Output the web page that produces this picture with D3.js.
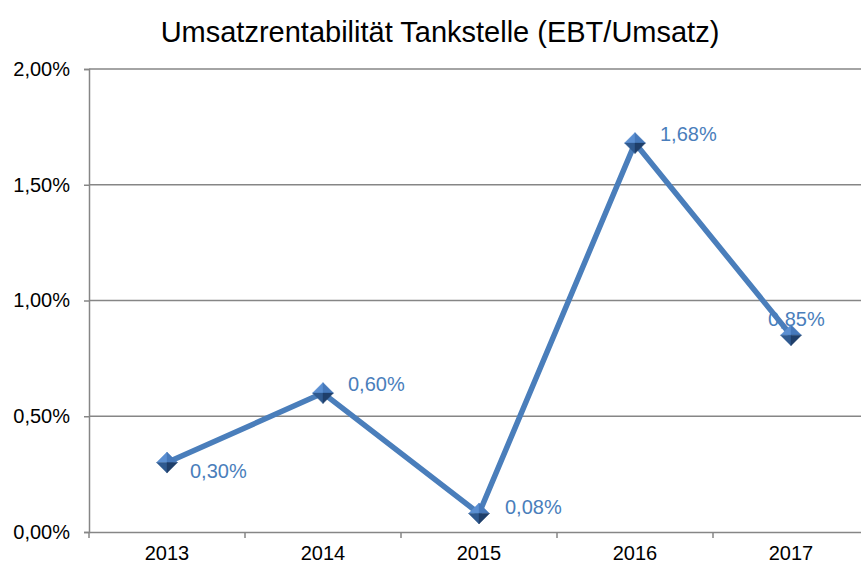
<!DOCTYPE html>
<html>
<head>
<meta charset="utf-8">
<script src="https://cdn.jsdelivr.net/npm/d3@7"></script>
<style>
  body { margin: 0; background: #fff; }
  text { font-family: "Liberation Sans", Arial, sans-serif; }
</style>
</head>
<body>
<div id="chart"></div>
<script>
// chart data
var years = ["2013", "2014", "2015", "2016", "2017"];
var values = [0.0030, 0.0060, 0.0008, 0.0168, 0.0085];
var yTicks = [0, 0.005, 0.01, 0.015, 0.02];
// label offset per point (dx, dy) relative to marker
var labelPos = [[23, 8], [25, -9], [26, -6], [25, -9], [-23, -16]];

var W = 861, H = 567;
var margin = {top: 69, right: -8, bottom: 35, left: 89},
    width = W - margin.left - margin.right,
    height = H - margin.top - margin.bottom;

var svg = d3.select("#chart").append("svg")
    .attr("width", W)
    .attr("height", H);

var g = svg.append("g")
    .attr("transform", "translate(" + margin.left + "," + margin.top + ")");

var x = d3.scaleBand().domain(years).range([0, width]);
var y = d3.scaleLinear().domain([0, 0.02]).range([height, 0]);

var fmt = function(v) { return d3.format(".2f")(v * 100).replace(".", ",") + "%"; };

// gridlines
g.append("g")
  .selectAll("line")
  .data(yTicks.slice(1))
  .join("line")
    .attr("x1", 0).attr("x2", width)
    .attr("y1", d => y(d)).attr("y2", d => y(d))
    .attr("stroke", "#868686").attr("stroke-width", 1.5);

// y axis
var yAxis = g.append("g")
  .call(d3.axisLeft(y).tickValues(yTicks).tickFormat(fmt).tickSize(5).tickPadding(14));
yAxis.attr("font-size", null).attr("font-family", null);
yAxis.select(".domain").attr("stroke", "#868686").attr("stroke-width", 1.5);
yAxis.selectAll(".tick line").attr("stroke", "#868686").attr("stroke-width", 1.5);
yAxis.selectAll("text").style("font-size", "20px").attr("fill", "#000");

// x axis
var xAxis = g.append("g")
  .attr("transform", "translate(0," + height + ")")
  .call(d3.axisBottom(x).tickSize(0).tickPadding(14));
xAxis.attr("font-size", null).attr("font-family", null);
xAxis.select(".domain").attr("stroke", "#868686").attr("stroke-width", 1.5);
xAxis.selectAll("text").style("font-size", "20px").attr("fill", "#000");
// category boundary ticks
g.append("g")
  .selectAll("line")
  .data(years)
  .join("line")
    .attr("x1", d => x(d)).attr("x2", d => x(d))
    .attr("y1", height).attr("y2", height + 6)
    .attr("stroke", "#868686").attr("stroke-width", 1.5);

// line
var line = d3.line()
  .x((d, i) => x(years[i]) + x.bandwidth() / 2)
  .y(d => y(d));
g.append("path")
  .datum(values)
  .attr("d", line)
  .attr("fill", "none")
  .attr("stroke", "#4a7ebb")
  .attr("stroke-width", 5.5)
  .attr("stroke-linejoin", "round");

// markers: pyramid-like diamond made of 4 shaded faces
var mk = 10.5;
var faces = [
  {d: "M0,0L0," + (-mk) + "L" + (-mk) + ",0Z", c: "#5b8fd2"},
  {d: "M0,0L0," + (-mk) + "L" + mk + ",0Z", c: "#4679bb"},
  {d: "M0,0L" + (-mk) + ",0L0," + mk + "Z", c: "#2f5a90"},
  {d: "M0,0L" + mk + ",0L0," + mk + "Z", c: "#1f3f6a"}
];
var markers = g.append("g")
  .selectAll("g")
  .data(values)
  .join("g")
    .attr("transform", (d, i) => "translate(" + (x(years[i]) + x.bandwidth() / 2) + "," + y(d) + ")");
markers.selectAll("path")
  .data(faces)
  .join("path")
    .attr("d", f => f.d)
    .attr("fill", f => f.c)
    .attr("stroke", f => f.c)
    .attr("stroke-width", 0.4);

// data labels
g.append("g")
  .selectAll("text")
  .data(values)
  .join("text")
    .attr("x", (d, i) => x(years[i]) + x.bandwidth() / 2 + labelPos[i][0])
    .attr("y", (d, i) => y(d) + labelPos[i][1])
    .attr("dy", "0.35em")
    .style("font-size", "20px")
    .attr("fill", "#4a7ebb")
    .text(d => fmt(d));

// title
svg.append("text")
  .attr("x", 440).attr("y", 42)
  .attr("text-anchor", "middle")
  .style("font-size", "29px")
  .attr("fill", "#000")
  .text("Umsatzrentabilität Tankstelle (EBT/Umsatz)");
</script>
</body>
</html>
